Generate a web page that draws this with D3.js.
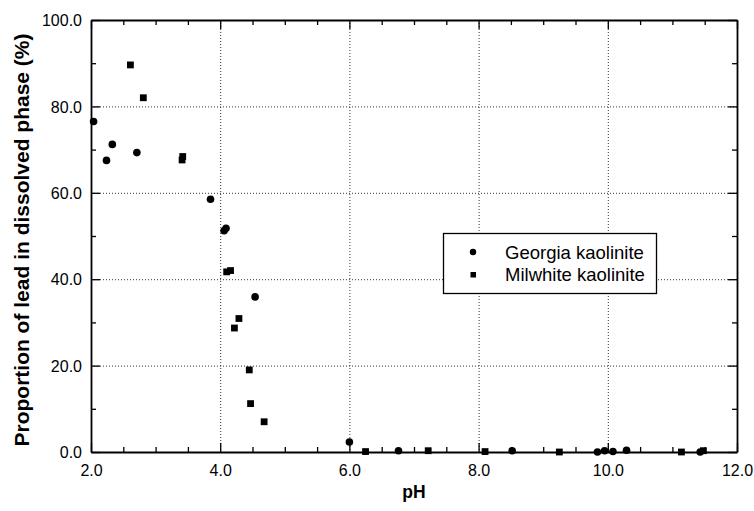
<!DOCTYPE html>
<html>
<head>
<meta charset="utf-8">
<script src="https://cdn.jsdelivr.net/npm/d3@7"></script>
<style>
  html, body { margin: 0; padding: 0; background: #fff; }
  svg { display: block; font-family: "Liberation Sans", Arial, sans-serif; }
</style>
</head>
<body>
<svg id="chart" width="754" height="511"></svg>
<script>
// Lead remaining in solution versus pH for two kaolinites
const georgiaPH = [2.04, 2.24, 2.33, 2.71, 3.85, 4.06, 4.09, 4.54, 6.0, 6.76, 8.52, 9.84, 9.95, 10.08, 10.29, 11.43];
const georgiaPb = [76.5, 67.5, 71.2, 69.3, 58.5, 51.2, 51.8, 35.9, 2.3, 0.3, 0.3, 0.0, 0.3, 0.1, 0.4, 0.0];

const milwhitePH = [2.61, 2.81, 3.41, 3.42, 4.10, 4.16, 4.22, 4.29, 4.45, 4.47, 4.68, 6.25, 7.22, 8.10, 9.25, 11.14, 11.48];
const milwhitePb = [89.6, 82.0, 67.6, 68.4, 41.7, 42.0, 28.7, 30.9, 19.0, 11.2, 7.0, 0.1, 0.3, 0.1, 0.0, 0.0, 0.3];

const xMajorTicks = [2, 4, 6, 8, 10, 12];
const yMajorTicks = [0, 20, 40, 60, 80, 100];
const seriesNames = ["Georgia kaolinite", "Milwhite kaolinite"];

const svg = d3.select("#chart");
const L = 91, R = 737, T = 20, B = 452;

const x = d3.scaleLinear().domain([2, 12]).range([L, R]);
const y = d3.scaleLinear().domain([0, 100]).range([B, T]);

const xMinor = d3.range(2, 12.01, 0.5);
const yMinor = d3.range(0, 100.01, 10);

// dotted grid at interior major values
const grid = svg.append("g").attr("stroke", "#333").attr("stroke-width", 1)
  .attr("stroke-dasharray", "1,2");
grid.selectAll("line.gx").data(xMajorTicks.filter(d => d > 2 && d < 12)).join("line")
  .attr("x1", d => x(d) + 0.5).attr("x2", d => x(d) + 0.5).attr("y1", T).attr("y2", B);
grid.selectAll("line.gy").data(yMajorTicks.filter(d => d > 0 && d < 100)).join("line")
  .attr("x1", L).attr("x2", R).attr("y1", d => y(d) + 0.5).attr("y2", d => y(d) + 0.5);

// axes with inward ticks
function tickLen(isMajor) { return isMajor ? 9 : 5; }
const fmt = d3.format(".1f");

const bottom = d3.axisBottom(x).tickValues(xMinor)
  .tickSizeInner(0).tickSizeOuter(0).tickFormat(d => xMajorTicks.includes(d) ? fmt(d) : "");
const left = d3.axisLeft(y).tickValues(yMinor)
  .tickSizeInner(0).tickSizeOuter(0).tickFormat(d => yMajorTicks.includes(d) ? fmt(d) : "");

const gB = svg.append("g").attr("transform", `translate(0,${B})`).call(bottom);
gB.selectAll(".tick text").attr("dy", 0).attr("y", 24).attr("font-size", 16)
  .attr("fill", "#000").attr("font-family", "Liberation Sans, Arial, sans-serif");
gB.selectAll(".tick line").attr("y2", d => -tickLen(xMajorTicks.includes(d))).attr("stroke", "#000").attr("stroke-width", 1.3);

const gL = svg.append("g").attr("transform", `translate(${L},0)`).call(left);
gL.selectAll(".tick text").attr("x", -9).attr("dy", "0.35em").attr("font-size", 16)
  .attr("fill", "#000").attr("font-family", "Liberation Sans, Arial, sans-serif");
gL.selectAll(".tick line").attr("x2", d => tickLen(yMajorTicks.includes(d))).attr("stroke", "#000").attr("stroke-width", 1.3);

const gT = svg.append("g").attr("transform", `translate(0,${T})`)
  .call(d3.axisTop(x).tickValues(xMinor).tickSizeInner(0).tickSizeOuter(0).tickFormat(""));
gT.selectAll(".tick line").attr("y2", d => tickLen(xMajorTicks.includes(d))).attr("stroke", "#000").attr("stroke-width", 1.3);

const gR = svg.append("g").attr("transform", `translate(${R},0)`)
  .call(d3.axisRight(y).tickValues(yMinor).tickSizeInner(0).tickSizeOuter(0).tickFormat(""));
gR.selectAll(".tick line").attr("x2", d => -tickLen(yMajorTicks.includes(d))).attr("stroke", "#000").attr("stroke-width", 1.3);

svg.selectAll(".domain").attr("stroke", "#000").attr("stroke-width", 1.8);

// data markers
svg.append("g").selectAll("circle").data(d3.zip(georgiaPH, georgiaPb)).join("circle")
  .attr("cx", d => x(d[0])).attr("cy", d => y(d[1])).attr("r", 3.8).attr("fill", "#000");

const sq = 6.8;
svg.append("g").selectAll("rect").data(d3.zip(milwhitePH, milwhitePb)).join("rect")
  .attr("x", d => x(d[0]) - sq / 2).attr("y", d => y(d[1]) - sq / 2)
  .attr("width", sq).attr("height", sq).attr("fill", "#000");

// legend
const lg = svg.append("g");
lg.append("rect").attr("x", 443.5).attr("y", 233.5).attr("width", 213).attr("height", 60)
  .attr("fill", "#fff").attr("stroke", "#000").attr("stroke-width", 1.3);
lg.append("circle").attr("cx", 473).attr("cy", 252).attr("r", 3.2).attr("fill", "#000");
lg.append("rect").attr("x", 470.5).attr("y", 272).attr("width", 5.5).attr("height", 5.5).attr("fill", "#000");
lg.selectAll("text").data(seriesNames).join("text")
  .attr("x", 505).attr("y", (d, i) => 258.5 + i * 22)
  .attr("font-size", 18.5).attr("fill", "#000").text(d => d);

// axis titles
svg.append("text").attr("x", x(7)).attr("y", 498).attr("text-anchor", "middle")
  .attr("font-size", 17.5).attr("font-weight", "bold").text("pH");
svg.append("text").attr("transform", `translate(29,240) rotate(-90)`)
  .attr("text-anchor", "middle").attr("font-size", 21).attr("font-weight", "bold")
  .text("Proportion of lead in dissolved phase (%)");
</script>
</body>
</html>
